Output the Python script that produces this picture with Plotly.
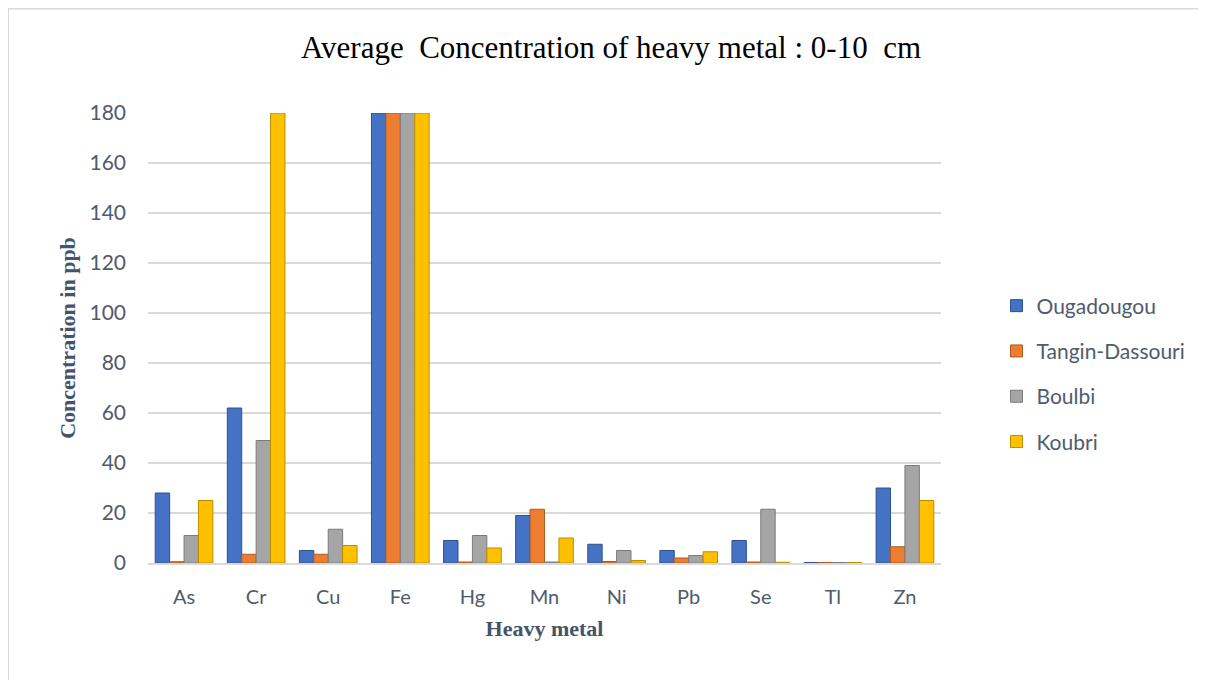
import plotly.graph_objects as go

metals = ["As", "Cr", "Cu", "Fe", "Hg", "Mn", "Ni", "Pb", "Se", "Tl", "Zn"]
ougadougou = [28, 62, 5, 180, 9, 19, 7.5, 5, 9, 0.2, 30]
tangin = [0.5, 3.5, 3.5, 180, 0.4, 21.5, 0.6, 2, 0.4, 0.2, 6.5]
boulbi = [11, 49, 13.5, 180, 11, 0.4, 5, 3, 21.5, 0.2, 39]
koubri = [25, 180, 7, 180, 6, 10, 1, 4.5, 0.3, 0.2, 25]
series_names = ["Ougadougou", "Tangin-Dassouri", "Boulbi", "Koubri"]
colors = ["#4472C4", "#ED7D31", "#A5A5A5", "#FFC000"]
edge_colors = ["#2F528F", "#AE5A21", "#7B7B7B", "#BC8C00"]
y_ticks = [0, 20, 40, 60, 80, 100, 120, 140, 160, 180]

fig = go.Figure()
for i, (name, vals) in enumerate(zip(series_names, [ougadougou, tangin, boulbi, koubri])):
    fig.add_trace(go.Bar(
        x=metals, y=vals, name=name, legendgroup=name,
        marker=dict(color=colors[i], line=dict(color=edge_colors[i], width=1)),
    ))

fig.update_layout(
    width=1206, height=680,
    paper_bgcolor="white", plot_bgcolor="white",
    margin=dict(l=140, r=273, t=105, b=125),
    title=dict(text="Average  Concentration of heavy metal : 0-10  cm",
               x=0.5, xanchor="center", xref="container",
               y=0.943, yanchor="middle", yref="container",
               font=dict(family="Liberation Serif", size=31, color="#000000")),
    barmode="group", bargap=0.2, bargroupgap=0.0,
    legend=dict(x=1.07, xanchor="left", y=0.42, yanchor="middle",
                font=dict(family="Lato", size=21, color="#4F5B6E"),
                tracegroupgap=15, traceorder="grouped", itemwidth=30),
    showlegend=True,
)
fig.update_xaxes(
    showgrid=False, showline=True, linecolor="#D9D9D9", linewidth=2,
    ticks="", ticklabelstandoff=15,
    tickfont=dict(family="Lato", size=20, color="#4F5B6E"),
    title=dict(text="<b>Heavy metal</b>", standoff=14,
               font=dict(family="Liberation Serif", size=22, color="#44546A")),
)
fig.update_yaxes(
    range=[0, 180], tickvals=y_ticks, showgrid=True, gridcolor="#D9D9D9", gridwidth=2,
    zeroline=False, ticks="", ticklabelstandoff=21,
    tickfont=dict(family="Lato", size=21, color="#4F5B6E"),
    title=dict(text="<b>Concentration in ppb</b>", standoff=7,
               font=dict(family="Liberation Serif", size=22, color="#44546A")),
)
# outer frame of the chart area
fig.add_shape(type="rect", xref="paper", yref="paper",
              x0=-0.1765, x1=1.4, y0=-0.3, y1=1.232,
              line=dict(color="#D9D9D9", width=2), fillcolor="rgba(0,0,0,0)", layer="below")

fig.write_html("out.html")
